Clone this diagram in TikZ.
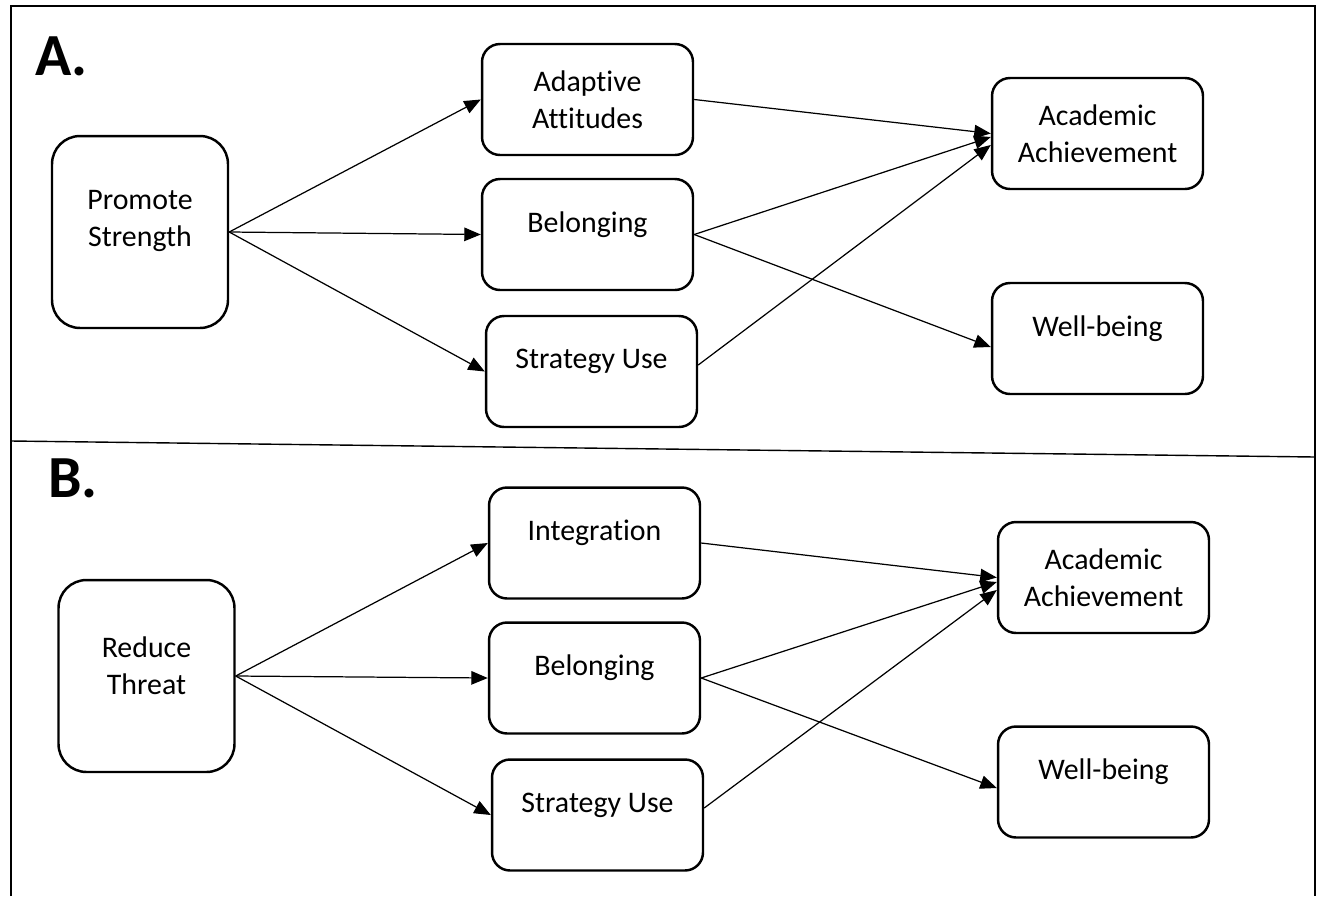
\documentclass[tikz,border=0pt]{standalone}
\usepackage{fontspec}
\setmainfont{Carlito}[Ligatures=NoCommon]
\usetikzlibrary{arrows.meta}

\tikzset{
  box/.style={draw, line width=1.4pt, rounded corners=0.36cm, minimum width=4.22cm, minimum height=2.22cm, inner sep=0pt},
  bigbox/.style={box, rounded corners=0.56cm, minimum width=3.52cm, minimum height=3.84cm},
  boxtext/.style={align=center, inner sep=0pt, font=\fontsize{17pt}{21pt}\selectfont},
  link/.style={-{Triangle[length=0.33cm,width=0.27cm]}, line width=0.7pt},
  panel/.style={anchor=base west, inner sep=0pt, font=\fontsize{34pt}{40pt}\selectfont\bfseries}
}

\begin{document}
\begin{tikzpicture}[x=0.02cm,y=-0.02cm]
\useasboundingbox (0,0) rectangle (1317,896);
\draw[line width=1.4pt] (11,896) |- (1315,6) -- (1315,896);
\draw[line width=0.8pt] (11,441) -- (1315,457);

% panel A
\node[panel] (LA) at (35,75) {A.};
\node[bigbox, label={[boxtext, yshift=0.22cm]center:Promote\\Strength}] (PS) at (140,232) {};
\node[box, label={[boxtext]center:Adaptive\\Attitudes}] (AA) at (587.5,99.5) {};
\node[box, label={[boxtext, yshift=0.2cm]center:Belonging}] (BA) at (587.5,234.5) {};
\node[box, label={[boxtext, yshift=0.2cm]center:Strategy Use}] (SA) at (591.5,371.5) {};
\node[box, label={[boxtext]center:Academic\\Achievement}] (CA) at (1097.5,133.5) {};
\node[box, label={[boxtext, yshift=0.2cm]center:Well-being}] (WA) at (1097.5,338.5) {};

\path[link] (PS.east) edge (AA.west);
\path[link] (PS.east) edge (BA.west);
\path[link] (PS.east) edge (SA.west);
\path[link] (AA.east) edge (CA.west);
\path[link] (BA.east) edge ([yshift=-0.07cm]CA.west);
\path[link] ([yshift=0.13cm]SA.east) edge ([yshift=-0.23cm]CA.west);
\path[link] (BA.east) edge ([yshift=-0.17cm]WA.west);

% panel B
\node[panel] (LB) at (48,497) {B.};
\node[bigbox, label={[boxtext, yshift=0.2cm]center:Reduce\\Threat}] (RT) at (146.5,676) {};
\node[box, label={[boxtext, yshift=0.2cm]center:Integration}] (IB) at (594.5,543) {};
\node[box, label={[boxtext, yshift=0.2cm]center:Belonging}] (BB) at (594.5,678) {};
\node[box, label={[boxtext, yshift=0.2cm]center:Strategy Use}] (SB) at (597.5,815) {};
\node[box, label={[boxtext]center:Academic\\Achievement}] (CB) at (1103.5,577.5) {};
\node[box, label={[boxtext, yshift=0.2cm]center:Well-being}] (WB) at (1103.5,782) {};

\path[link] (RT.east) edge (IB.west);
\path[link] (RT.east) edge (BB.west);
\path[link] (RT.east) edge (SB.west);
\path[link] (IB.east) edge (CB.west);
\path[link] (BB.east) edge ([yshift=-0.09cm]CB.west);
\path[link] ([yshift=0.14cm]SB.east) edge ([yshift=-0.25cm]CB.west);
\path[link] (BB.east) edge ([yshift=-0.12cm]WB.west);
\end{tikzpicture}
\end{document}
